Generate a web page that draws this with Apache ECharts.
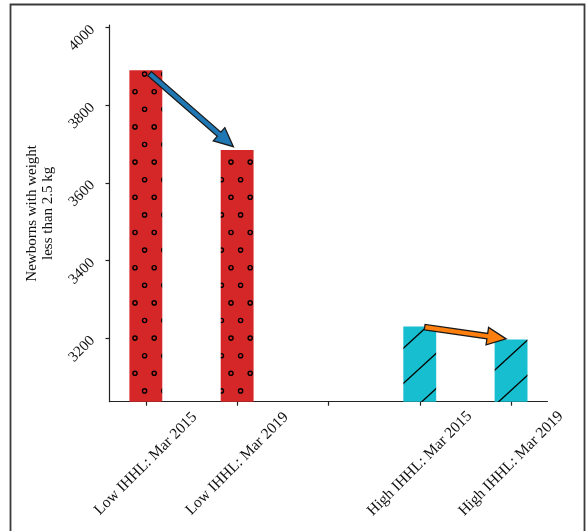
<!DOCTYPE html>
<html>
<head>
<meta charset="utf-8">
<script src="https://cdn.jsdelivr.net/npm/echarts@6/dist/echarts.min.js"></script>
<style>
  html, body { margin: 0; padding: 0; background: #fff; }
  #chart { width: 586px; height: 531px; }
</style>
</head>
<body>
<div id="chart"></div>
<script>
// Category slots along the x axis (the middle slot is an empty spacer)
const categories = ['Low IHHL: Mar 2015', 'Low IHHL: Mar 2019', '', 'High IHHL: Mar 2015', 'High IHHL: Mar 2019'];
// Slot index of each bar and the number of newborns under 2.5 kg
const barSlots = [0, 1, 3, 4];
const newborns = [3890, 3685, 3231, 3197];
// Which fill each bar uses
const barGroup = ['low', 'low', 'high', 'high'];
// Y tick values
const yTicks = [3200, 3400, 3600, 3800, 4000];
// Change arrows: [from bar, to bar]
const arrowPairs = [[0, 1], [2, 3]];
const arrowColors = ['#1f77b4', '#ff7f0e'];

const BAR_WIDTH = 0.36;
const FONT = 'Liberation Serif';

// Red fill with staggered small rings
function ringPattern() {
  const c = document.createElement('canvas');
  c.width = 192; c.height = 352;
  const g = c.getContext('2d');
  g.fillStyle = '#d62728';
  g.fillRect(0, 0, c.width, c.height);
  g.strokeStyle = '#000';
  g.lineWidth = 1.4;
  const rows = [[0.6, 21.3], [10.2, 3.7]];
  for (let j = -1; j <= 10; j++) {
    for (let i = -1; i <= 10; i++) {
      rows.forEach(([ox, oy]) => {
        g.beginPath();
        g.arc(ox + 19.2 * i, oy + 35.2 * j, 2.1, 0, Math.PI * 2);
        g.stroke();
      });
    }
  }
  return c;
}

// Cyan fill with sparse forward-slash hatching
function slashPattern() {
  const c = document.createElement('canvas');
  c.width = 384; c.height = 352;
  const g = c.getContext('2d');
  g.fillStyle = '#17becf';
  g.fillRect(0, 0, c.width, c.height);
  g.strokeStyle = '#000';
  g.lineWidth = 1.3;
  const slope = 352 / 384;
  for (let k = -2; k <= 22; k++) {
    const b = 14 + 35.2 * k;
    g.beginPath();
    g.moveTo(-20, b + slope * 20);
    g.lineTo(404, b - slope * 404);
    g.stroke();
  }
  return c;
}

const fills = {
  low: { image: ringPattern(), repeat: 'repeat' },
  high: { image: slashPattern(), repeat: 'repeat' }
};

const xPad = 0.05 * ((categories.length - 1) + BAR_WIDTH);
const xMin = -BAR_WIDTH / 2 - xPad;
const xMax = categories.length - 1 + BAR_WIDTH / 2 + xPad;
const yMin = 0.95 * Math.min(...newborns);
const yMax = 1.03 * Math.max(...newborns);

const chart = echarts.init(document.getElementById('chart'), null, { renderer: 'canvas' });

const axisLine = { show: true, onZero: false, lineStyle: { color: '#222', width: 1.2 } };

chart.setOption({
  animation: false,
  grid: { left: 109.5, right: 38.6, top: 25, bottom: 129.3, outerBoundsMode: 'none' },
  graphic: [{
    type: 'rect',
    silent: true,
    z: -10,
    shape: { x: 10.5, y: 4.5, width: 574, height: 560 },
    style: { fill: 'none', stroke: '#3a3a3a', lineWidth: 1.8 }
  }],
  xAxis: {
    type: 'value',
    min: xMin,
    max: xMax,
    splitLine: { show: false },
    axisLine: axisLine,
    axisTick: {
      show: true, length: 4, inside: false,
      customValues: categories.map((_, i) => i),
      lineStyle: { color: '#222', width: 1.2 }
    },
    axisLabel: {
      customValues: categories.map((_, i) => i),
      formatter: v => categories[Math.round(v)] || '',
      rotate: 45,
      align: 'center',
      verticalAlign: 'middle',
      margin: 62,
      fontFamily: FONT,
      fontSize: 15.5,
      color: '#111'
    }
  },
  yAxis: {
    type: 'value',
    min: yMin,
    max: yMax,
    splitLine: { show: false },
    axisLine: axisLine,
    axisTick: {
      show: true, length: 4, inside: false,
      customValues: yTicks,
      lineStyle: { color: '#222', width: 1.2 }
    },
    axisLabel: {
      customValues: yTicks,
      formatter: v => String(v),
      rotate: 45,
      margin: 17,
      fontFamily: FONT,
      fontSize: 15,
      color: '#111'
    },
    name: 'Newborns with weight\nless than 2.5 kg',
    nameLocation: 'middle',
    nameGap: 48,
    nameTextStyle: { fontFamily: FONT, fontSize: 15, lineHeight: 16, color: '#111' }
  },
  series: [
    {
      type: 'bar',
      barWidth: (BAR_WIDTH * 100) + '%',
      silent: true,
      data: barSlots.map((slot, i) => ({
        value: [slot, newborns[i]],
        itemStyle: { color: fills[barGroup[i]] }
      }))
    },
    {
      type: 'custom',
      coordinateSystem: 'cartesian2d',
      silent: true,
      clip: false,
      z: 5,
      data: arrowPairs.map(([a, b], i) => [barSlots[a], newborns[a], barSlots[b], newborns[b], i]),
      encode: { x: [0, 2], y: [1, 3] },
      renderItem(params, api) {
        const p0 = api.coord([api.value(0), api.value(1)]);
        const p1 = api.coord([api.value(2), api.value(3)]);
        const dx = p1[0] - p0[0], dy = p1[1] - p0[1];
        const len = Math.hypot(dx, dy);
        const ux = dx / len, uy = dy / len;
        const nx = -uy, ny = ux;
        const shrink = 5, headLen = 19, headHalf = 8.8, shaftHalf = 2.7;
        const tail = [p0[0] + ux * shrink, p0[1] + uy * shrink];
        const tip = [p1[0] - ux * shrink, p1[1] - uy * shrink];
        const base = [tip[0] - ux * headLen, tip[1] - uy * headLen];
        const pt = (p, s) => [p[0] + nx * s, p[1] + ny * s];
        return {
          type: 'polygon',
          shape: { points: [pt(tail, shaftHalf), pt(base, shaftHalf), pt(base, headHalf), tip,
                            pt(base, -headHalf), pt(base, -shaftHalf), pt(tail, -shaftHalf)] },
          style: { fill: arrowColors[api.value(4)], stroke: '#1a1a1a', lineWidth: 1.3, lineJoin: 'miter' }
        };
      }
    }
  ]
});
</script>
</body>
</html>
